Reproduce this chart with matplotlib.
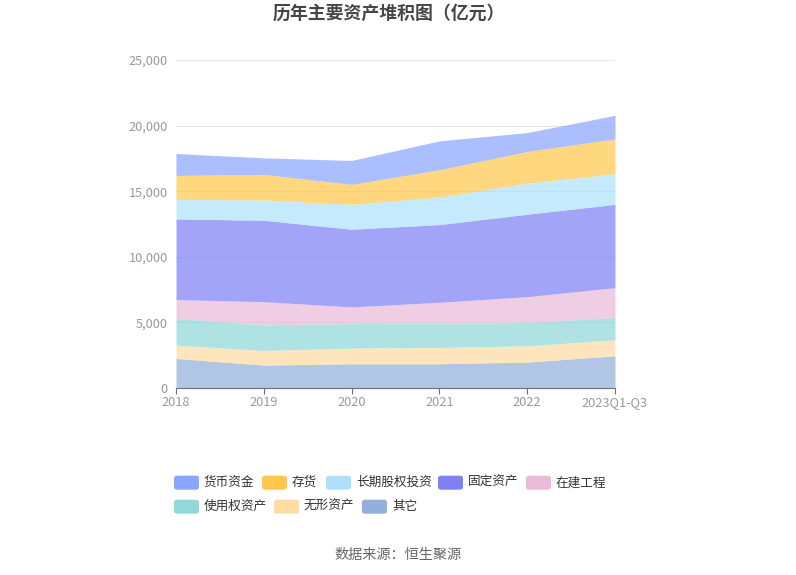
import matplotlib
matplotlib.use("Agg")
import matplotlib.pyplot as plt
from matplotlib.patches import FancyBboxPatch
import numpy as np

plt.rcParams['font.family'] = ['Noto Sans CJK SC', 'DejaVu Sans']

years = ['2018', '2019', '2020', '2021', '2022', '2023Q1-Q3']
# bottom to top stacking order
other = [2253, 1747, 1848, 1848, 1975, 2456]
intangible = [1013, 1114, 1190, 1241, 1240, 1215]
rou = [2050, 1949, 1873, 1848, 1772, 1721]
cip = [1418, 1772, 1266, 1595, 1975, 2254]
fixed = [6152, 6203, 5924, 5924, 6279, 6354]
lt_equity = [1494, 1544, 1899, 2101, 2379, 2330]
inventory = [1823, 1950, 1519, 2076, 2405, 2658]
cash = [1671, 1265, 1823, 2203, 1443, 1797]

names = ['其它', '无形资产', '使用权资产', '在建工程', '固定资产', '长期股权投资', '存货', '货币资金']
series = [other, intangible, rou, cip, fixed, lt_equity, inventory, cash]
colors = ['#8DABDA', '#FFDA9F', '#89D7D7', '#E8B8D7', '#777AF4', '#A9E0FB', '#FFC441', '#84A1FF']

W, H = 796, 575
fig = plt.figure(figsize=(W / 100, H / 100), dpi=100)
ax = fig.add_axes([176 / W, 1 - 388 / H, (615 - 176) / W, (388 - 60) / H])

x = np.arange(len(years))
base = np.zeros(len(years))
for vals, c in zip(series, colors):
    v = np.array(vals, dtype=float)
    ax.fill_between(x, base, base + v, color=c, alpha=0.68, linewidth=0, zorder=2)
    base = base + v

ax.set_xlim(0, len(years) - 1)
ax.set_ylim(0, 25000)
yt = np.arange(0, 25001, 5000)
ax.set_yticks(yt)
ax.set_yticklabels([f'{v:,}' for v in yt])
ax.set_xticks(x)
ax.set_xticklabels(years)
ax.grid(axis='y', color='#E0E6F1', linewidth=0.8, zorder=0)
ax.set_axisbelow(True)
for s in ['top', 'right', 'left']:
    ax.spines[s].set_visible(False)
ax.spines['bottom'].set_color('#6E7079')
ax.spines['bottom'].set_linewidth(0.8)
ax.spines['bottom'].set_zorder(5)
ax.tick_params(axis='y', length=0, pad=6, labelsize=9.2, labelcolor='#999999')
ax.tick_params(axis='x', length=4, width=0.8, color='#6E7079', pad=2, labelsize=9.2, labelcolor='#999999')

fig.text(389 / W, 1 - 14 / H, '历年主要资产堆积图（亿元）', ha='center', va='center',
         fontsize=12.9, fontweight='bold', color='#464646')

# legend
name_to_color = dict(zip(names, colors))
positions = [
    ('货币资金', 174, 482.7), ('存货', 262, 482.7), ('长期股权投资', 326, 482.7),
    ('固定资产', 438, 482.7), ('在建工程', 526, 482.7),
    ('使用权资产', 174, 506.7), ('无形资产', 274, 506.7), ('其它', 362, 506.7),
]
for name, px, py in positions:
    sw, sh = 25, 14
    patch = FancyBboxPatch((px / W, 1 - (py + sh / 2) / H), sw / W, sh / H,
                           boxstyle='round,pad=0,rounding_size=0.004',
                           transform=fig.transFigure, facecolor=name_to_color[name],
                           edgecolor='none', alpha=0.95)
    fig.patches.append(patch)
    fig.text((px + sw + 5) / W, 1 - py / H, name, ha='left', va='center',
             fontsize=9.1, color='#333333')

fig.text(398 / W, 1 - 555 / H, '数据来源：恒生聚源', ha='center', va='center',
         fontsize=10.2, color='#666666')

fig.savefig('out.png', dpi=100)
